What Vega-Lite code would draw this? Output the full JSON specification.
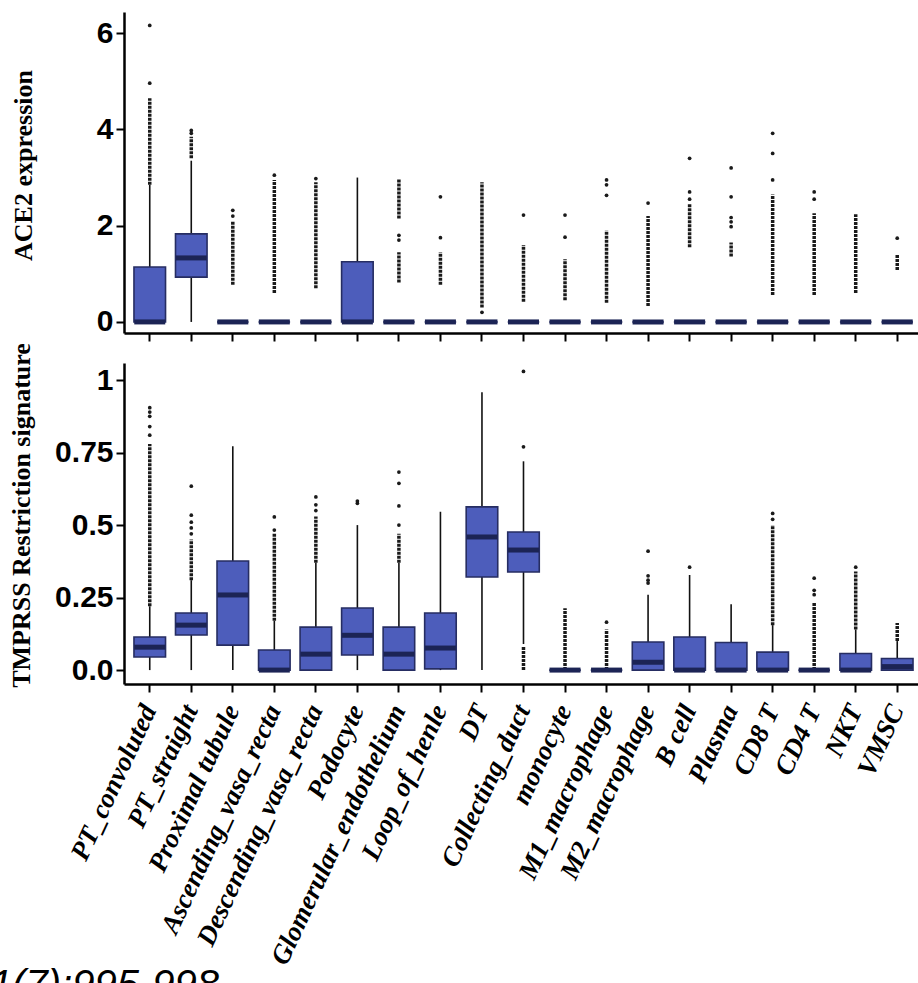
{
  "$schema": "https://vega.github.io/schema/vega-lite/v6.json",
  "padding": {"left": -10, "top": 12, "right": 0, "bottom": 0},
  "background": "white",
  "spacing": 0,
  "title": {"text": "1(7):995-998", "orient": "bottom", "anchor": "start", "frame": "bounds", "font": "Liberation Sans", "fontSize": 40, "fontStyle": "italic", "fontWeight": "normal", "color": "black", "baseline": "top", "offset": -2, "dx": -18},
  "datasets": {
    "ace2_box": [
      {"cell": "PT_convoluted", "lo": 0, "q1": 0, "med": 0, "q3": 1.14, "hi": 2.85},
      {"cell": "PT_straight", "lo": 0, "q1": 0.93, "med": 1.33, "q3": 1.83, "hi": 3.35},
      {"cell": "Proximal tubule", "lo": 0, "q1": 0, "med": 0, "q3": 0, "hi": 0},
      {"cell": "Ascending_vasa_recta", "lo": 0, "q1": 0, "med": 0, "q3": 0, "hi": 0},
      {"cell": "Descending_vasa_recta", "lo": 0, "q1": 0, "med": 0, "q3": 0, "hi": 0},
      {"cell": "Podocyte", "lo": 0, "q1": 0, "med": 0, "q3": 1.25, "hi": 3.0},
      {"cell": "Glomerular_endothelium", "lo": 0, "q1": 0, "med": 0, "q3": 0, "hi": 0},
      {"cell": "Loop_of_henle", "lo": 0, "q1": 0, "med": 0, "q3": 0, "hi": 0},
      {"cell": "DT", "lo": 0, "q1": 0, "med": 0, "q3": 0, "hi": 0},
      {"cell": "Collecting_duct", "lo": 0, "q1": 0, "med": 0, "q3": 0, "hi": 0},
      {"cell": "monocyte", "lo": 0, "q1": 0, "med": 0, "q3": 0, "hi": 0},
      {"cell": "M1_macrophage", "lo": 0, "q1": 0, "med": 0, "q3": 0, "hi": 0},
      {"cell": "M2_macrophage", "lo": 0, "q1": 0, "med": 0, "q3": 0, "hi": 0},
      {"cell": "B cell", "lo": 0, "q1": 0, "med": 0, "q3": 0, "hi": 0},
      {"cell": "Plasma", "lo": 0, "q1": 0, "med": 0, "q3": 0, "hi": 0},
      {"cell": "CD8 T", "lo": 0, "q1": 0, "med": 0, "q3": 0, "hi": 0},
      {"cell": "CD4 T", "lo": 0, "q1": 0, "med": 0, "q3": 0, "hi": 0},
      {"cell": "NKT", "lo": 0, "q1": 0, "med": 0, "q3": 0, "hi": 0},
      {"cell": "VMSC", "lo": 0, "q1": 0, "med": 0, "q3": 0, "hi": 0}
    ],
    "ace2_dense": [
      {"cell": "PT_convoluted", "a": 2.85, "b": 4.65},
      {"cell": "PT_straight", "a": 3.4, "b": 3.85},
      {"cell": "Proximal tubule", "a": 0.77, "b": 2.1},
      {"cell": "Ascending_vasa_recta", "a": 0.6, "b": 2.95},
      {"cell": "Descending_vasa_recta", "a": 0.7, "b": 2.9},
      {"cell": "Glomerular_endothelium", "a": 0.82, "b": 1.45},
      {"cell": "Glomerular_endothelium", "a": 2.15, "b": 2.97},
      {"cell": "Loop_of_henle", "a": 0.77, "b": 1.45},
      {"cell": "DT", "a": 0.3, "b": 2.9},
      {"cell": "Collecting_duct", "a": 0.42, "b": 1.6},
      {"cell": "monocyte", "a": 0.45, "b": 1.3},
      {"cell": "M1_macrophage", "a": 0.4, "b": 1.9},
      {"cell": "M2_macrophage", "a": 0.33, "b": 2.2},
      {"cell": "B cell", "a": 1.55, "b": 2.45},
      {"cell": "Plasma", "a": 1.36, "b": 1.65},
      {"cell": "CD8 T", "a": 0.56, "b": 2.65},
      {"cell": "CD4 T", "a": 0.56, "b": 2.26},
      {"cell": "NKT", "a": 0.6, "b": 2.24},
      {"cell": "VMSC", "a": 1.08, "b": 1.41}
    ],
    "ace2_pts": [
      {"cell": "PT_convoluted", "v": 4.96},
      {"cell": "PT_convoluted", "v": 6.16},
      {"cell": "PT_straight", "v": 3.92},
      {"cell": "PT_straight", "v": 3.98},
      {"cell": "Proximal tubule", "v": 2.2},
      {"cell": "Proximal tubule", "v": 2.32},
      {"cell": "Ascending_vasa_recta", "v": 3.05},
      {"cell": "Descending_vasa_recta", "v": 2.98},
      {"cell": "Glomerular_endothelium", "v": 1.7},
      {"cell": "Glomerular_endothelium", "v": 1.8},
      {"cell": "Loop_of_henle", "v": 1.75},
      {"cell": "Loop_of_henle", "v": 2.6},
      {"cell": "DT", "v": 0.2},
      {"cell": "Collecting_duct", "v": 2.22},
      {"cell": "monocyte", "v": 1.76},
      {"cell": "monocyte", "v": 2.22},
      {"cell": "M1_macrophage", "v": 2.63},
      {"cell": "M1_macrophage", "v": 2.85},
      {"cell": "M1_macrophage", "v": 2.95},
      {"cell": "M2_macrophage", "v": 2.47},
      {"cell": "B cell", "v": 2.55},
      {"cell": "B cell", "v": 2.7},
      {"cell": "B cell", "v": 3.4},
      {"cell": "Plasma", "v": 1.98},
      {"cell": "Plasma", "v": 2.08},
      {"cell": "Plasma", "v": 2.17},
      {"cell": "Plasma", "v": 2.6},
      {"cell": "Plasma", "v": 3.2},
      {"cell": "CD8 T", "v": 2.95},
      {"cell": "CD8 T", "v": 3.5},
      {"cell": "CD8 T", "v": 3.92},
      {"cell": "CD4 T", "v": 2.55},
      {"cell": "CD4 T", "v": 2.7},
      {"cell": "VMSC", "v": 1.74}
    ],
    "tmp_box": [
      {"cell": "PT_convoluted", "lo": 0, "q1": 0.045, "med": 0.079, "q3": 0.114, "hi": 0.22},
      {"cell": "PT_straight", "lo": 0, "q1": 0.121, "med": 0.155, "q3": 0.197, "hi": 0.31},
      {"cell": "Proximal tubule", "lo": 0, "q1": 0.086, "med": 0.259, "q3": 0.376, "hi": 0.772},
      {"cell": "Ascending_vasa_recta", "lo": 0, "q1": 0, "med": 0, "q3": 0.069, "hi": 0.17},
      {"cell": "Descending_vasa_recta", "lo": 0, "q1": 0, "med": 0.055, "q3": 0.148, "hi": 0.37},
      {"cell": "Podocyte", "lo": 0, "q1": 0.052, "med": 0.12, "q3": 0.214, "hi": 0.5},
      {"cell": "Glomerular_endothelium", "lo": 0, "q1": 0, "med": 0.055, "q3": 0.148, "hi": 0.37},
      {"cell": "Loop_of_henle", "lo": 0, "q1": 0.004, "med": 0.076, "q3": 0.197, "hi": 0.546},
      {"cell": "DT", "lo": 0, "q1": 0.321, "med": 0.459, "q3": 0.563, "hi": 0.958},
      {"cell": "Collecting_duct", "lo": 0.09, "q1": 0.338, "med": 0.414, "q3": 0.476, "hi": 0.72},
      {"cell": "monocyte", "lo": 0, "q1": 0, "med": 0, "q3": 0, "hi": 0},
      {"cell": "M1_macrophage", "lo": 0, "q1": 0, "med": 0, "q3": 0, "hi": 0},
      {"cell": "M2_macrophage", "lo": 0, "q1": 0, "med": 0.027, "q3": 0.097, "hi": 0.26},
      {"cell": "B cell", "lo": 0, "q1": 0, "med": 0, "q3": 0.114, "hi": 0.328},
      {"cell": "Plasma", "lo": 0, "q1": 0, "med": 0, "q3": 0.095, "hi": 0.227},
      {"cell": "CD8 T", "lo": 0, "q1": 0, "med": 0, "q3": 0.062, "hi": 0.155},
      {"cell": "CD4 T", "lo": 0, "q1": 0, "med": 0, "q3": 0, "hi": 0},
      {"cell": "NKT", "lo": 0, "q1": 0, "med": 0, "q3": 0.057, "hi": 0.14},
      {"cell": "VMSC", "lo": 0, "q1": 0, "med": 0.012, "q3": 0.04, "hi": 0.1}
    ],
    "tmp_dense": [
      {"cell": "PT_convoluted", "a": 0.22, "b": 0.78},
      {"cell": "PT_straight", "a": 0.31, "b": 0.45},
      {"cell": "Ascending_vasa_recta", "a": 0.17, "b": 0.47},
      {"cell": "Descending_vasa_recta", "a": 0.37, "b": 0.53},
      {"cell": "Glomerular_endothelium", "a": 0.37, "b": 0.47},
      {"cell": "Collecting_duct", "a": 0.0, "b": 0.08},
      {"cell": "monocyte", "a": 0.0, "b": 0.213},
      {"cell": "M1_macrophage", "a": 0.0, "b": 0.14},
      {"cell": "CD8 T", "a": 0.155, "b": 0.5},
      {"cell": "CD4 T", "a": 0.0, "b": 0.234},
      {"cell": "NKT", "a": 0.14, "b": 0.34},
      {"cell": "VMSC", "a": 0.1, "b": 0.162}
    ],
    "tmp_pts": [
      {"cell": "PT_convoluted", "v": 0.81},
      {"cell": "PT_convoluted", "v": 0.84},
      {"cell": "PT_convoluted", "v": 0.875},
      {"cell": "PT_convoluted", "v": 0.89},
      {"cell": "PT_convoluted", "v": 0.905},
      {"cell": "PT_straight", "v": 0.47},
      {"cell": "PT_straight", "v": 0.49},
      {"cell": "PT_straight", "v": 0.51},
      {"cell": "PT_straight", "v": 0.534},
      {"cell": "PT_straight", "v": 0.634},
      {"cell": "Ascending_vasa_recta", "v": 0.483},
      {"cell": "Ascending_vasa_recta", "v": 0.528},
      {"cell": "Descending_vasa_recta", "v": 0.55},
      {"cell": "Descending_vasa_recta", "v": 0.57},
      {"cell": "Descending_vasa_recta", "v": 0.597},
      {"cell": "Podocyte", "v": 0.575},
      {"cell": "Podocyte", "v": 0.583},
      {"cell": "Glomerular_endothelium", "v": 0.5},
      {"cell": "Glomerular_endothelium", "v": 0.566},
      {"cell": "Glomerular_endothelium", "v": 0.644},
      {"cell": "Glomerular_endothelium", "v": 0.683},
      {"cell": "Collecting_duct", "v": 0.77},
      {"cell": "Collecting_duct", "v": 1.03},
      {"cell": "M1_macrophage", "v": 0.165},
      {"cell": "M2_macrophage", "v": 0.3},
      {"cell": "M2_macrophage", "v": 0.31},
      {"cell": "M2_macrophage", "v": 0.325},
      {"cell": "M2_macrophage", "v": 0.41},
      {"cell": "B cell", "v": 0.355},
      {"cell": "CD8 T", "v": 0.52},
      {"cell": "CD8 T", "v": 0.54},
      {"cell": "CD4 T", "v": 0.26},
      {"cell": "CD4 T", "v": 0.275},
      {"cell": "CD4 T", "v": 0.317},
      {"cell": "NKT", "v": 0.355}
    ]
  },
  "vconcat": [
    {
      "width": 794,
      "height": 321,
      "layer": [
        {
          "data": {"name": "ace2_box"},
          "mark": {"type": "rule", "stroke": "#111111", "strokeWidth": 1.6},
          "encoding": {
            "x": {"field": "cell", "type": "nominal", "title": null,
              "scale": {"domain": ["PT_convoluted","PT_straight","Proximal tubule","Ascending_vasa_recta","Descending_vasa_recta","Podocyte","Glomerular_endothelium","Loop_of_henle","DT","Collecting_duct","monocyte","M1_macrophage","M2_macrophage","B cell","Plasma","CD8 T","CD4 T","NKT","VMSC"], "paddingInner": 0, "paddingOuter": 0.06, "align": 1},
              "axis": {"labels": false, "tickSize": 8, "tickWidth": 2, "domainWidth": 2.5, "title": null}},
            "y": {"field": "lo", "type": "quantitative", "title": "ACE2 expression",
              "scale": {"domain": [-0.23, 6.44], "nice": false, "zero": false},
              "axis": {"values": [0, 2, 4, 6], "labelFont": "Liberation Sans", "labelFontWeight": "bold", "labelFontSize": 30, "labelPadding": 3, "tickSize": 8, "tickWidth": 2, "domainWidth": 2.5, "titleFont": "Liberation Serif", "titleFontWeight": "bold", "titleFontSize": 26, "titleX": -88, "titleY": 153}},
            "y2": {"field": "hi"}
          }
        },
        {
          "data": {"name": "ace2_dense"},
          "mark": {"type": "rule", "stroke": "#1a1a1a", "strokeWidth": 3.5, "strokeDash": [3, 1]},
          "encoding": {
            "x": {"field": "cell", "type": "nominal", "title": null},
            "y": {"field": "a", "type": "quantitative", "title": "ACE2 expression"},
            "y2": {"field": "b"}
          }
        },
        {
          "data": {"name": "ace2_box"},
          "mark": {"type": "bar", "fill": "#4d5dbb", "stroke": "#262d62", "strokeWidth": 1.6, "width": {"band": 0.76}},
          "encoding": {
            "x": {"field": "cell", "type": "nominal", "title": null},
            "y": {"field": "q1", "type": "quantitative", "title": "ACE2 expression"},
            "y2": {"field": "q3"}
          }
        },
        {
          "data": {"name": "ace2_box"},
          "mark": {"type": "tick", "color": "#1c2455", "thickness": 5, "size": 31, "opacity": 1},
          "encoding": {
            "x": {"field": "cell", "type": "nominal", "title": null},
            "y": {"field": "med", "type": "quantitative", "title": "ACE2 expression"}
          }
        },
        {
          "data": {"name": "ace2_pts"},
          "mark": {"type": "point", "filled": true, "color": "#1a1a1a", "size": 14, "opacity": 1},
          "encoding": {
            "x": {"field": "cell", "type": "nominal", "title": null},
            "y": {"field": "v", "type": "quantitative", "title": "ACE2 expression"}
          }
        }
      ]
    },
    {
      "width": 794,
      "height": 321,
      "layer": [
        {
          "data": {"name": "tmp_box"},
          "mark": {"type": "rule", "stroke": "#111111", "strokeWidth": 1.6},
          "encoding": {
            "x": {"field": "cell", "type": "nominal", "title": null,
              "scale": {"domain": ["PT_convoluted","PT_straight","Proximal tubule","Ascending_vasa_recta","Descending_vasa_recta","Podocyte","Glomerular_endothelium","Loop_of_henle","DT","Collecting_duct","monocyte","M1_macrophage","M2_macrophage","B cell","Plasma","CD8 T","CD4 T","NKT","VMSC"], "paddingInner": 0, "paddingOuter": 0.06, "align": 1},
              "axis": {"labelAngle": -65, "labelFont": "Liberation Serif", "labelFontWeight": "bold", "labelFontStyle": "italic", "labelFontSize": 27, "labelAlign": "right", "labelBaseline": "middle", "labelPadding": 14, "labelLimit": 500, "labelOverlap": false, "tickSize": 8, "tickWidth": 2, "domainWidth": 2.5, "title": null}},
            "y": {"field": "lo", "type": "quantitative", "title": "TMPRSS Restriction signature",
              "scale": {"domain": [-0.048, 1.059], "nice": false, "zero": false},
              "axis": {"values": [0, 0.25, 0.5, 0.75, 1], "labelExpr": "datum.value == 0 ? '0.0' : format(datum.value, '~g')", "labelFont": "Liberation Sans", "labelFontWeight": "bold", "labelFontSize": 30, "labelPadding": 3, "tickSize": 8, "tickWidth": 2, "domainWidth": 2.5, "titleFont": "Liberation Serif", "titleFontWeight": "bold", "titleFontSize": 26, "titleX": -90, "titleY": 152}},
            "y2": {"field": "hi"}
          }
        },
        {
          "data": {"name": "tmp_dense"},
          "mark": {"type": "rule", "stroke": "#1a1a1a", "strokeWidth": 3.5, "strokeDash": [3, 1]},
          "encoding": {
            "x": {"field": "cell", "type": "nominal", "title": null},
            "y": {"field": "a", "type": "quantitative", "title": "TMPRSS Restriction signature"},
            "y2": {"field": "b"}
          }
        },
        {
          "data": {"name": "tmp_box"},
          "mark": {"type": "bar", "fill": "#4d5dbb", "stroke": "#262d62", "strokeWidth": 1.6, "width": {"band": 0.76}},
          "encoding": {
            "x": {"field": "cell", "type": "nominal", "title": null},
            "y": {"field": "q1", "type": "quantitative", "title": "TMPRSS Restriction signature"},
            "y2": {"field": "q3"}
          }
        },
        {
          "data": {"name": "tmp_box"},
          "mark": {"type": "tick", "color": "#1c2455", "thickness": 5, "size": 31, "opacity": 1},
          "encoding": {
            "x": {"field": "cell", "type": "nominal", "title": null},
            "y": {"field": "med", "type": "quantitative", "title": "TMPRSS Restriction signature"}
          }
        },
        {
          "data": {"name": "tmp_pts"},
          "mark": {"type": "point", "filled": true, "color": "#1a1a1a", "size": 14, "opacity": 1},
          "encoding": {
            "x": {"field": "cell", "type": "nominal", "title": null},
            "y": {"field": "v", "type": "quantitative", "title": "TMPRSS Restriction signature"}
          }
        }
      ]
    }
  ],
  "resolve": {"scale": {"x": "independent", "y": "independent"}},
  "config": {
    "view": {"stroke": null},
    "axis": {"grid": false, "domainColor": "black", "tickColor": "black", "labelColor": "black", "titleColor": "black"}
  }
}
